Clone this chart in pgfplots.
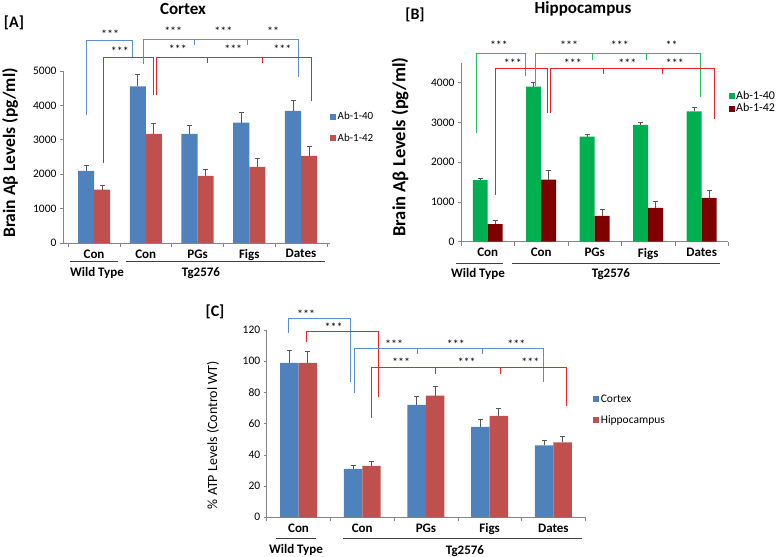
\documentclass[border=0pt]{standalone}
\usepackage{fontspec}
\setmainfont{Carlito}
\usepackage{pgfplots}
\pgfplotsset{compat=1.18}
\definecolor{cblue}{HTML}{4F81BD}
\definecolor{cred}{HTML}{C0504D}
\definecolor{cgreen}{HTML}{00B050}
\definecolor{cdred}{HTML}{7F0000}
\definecolor{bblue}{HTML}{5B8FD0}
\definecolor{bred}{HTML}{EE2222}
\definecolor{bgreen}{HTML}{22C060}
\definecolor{axgray}{HTML}{868686}
\definecolor{errgray}{HTML}{595959}
\tikzset{
 star/.style={font=\fontsize{12}{12}\selectfont, yshift=-2.5pt},
 br/.style={line width=0.8pt},
}
\pgfplotsset{
 sqlegend/.style={legend image code/.code={\fill[##1] (0pt,-3pt) rectangle (6pt,3pt);}},
 panel/.style={
  scale only axis, axis lines*=left, axis line style={axgray, line width=0.6pt},
  clip=false, ybar=0pt, ymin=0,
  xtick={0,1,2,3,4}, xticklabels={Con,Con,PGs,Figs,Dates},
  minor xtick={-0.5,0.5,1.5,2.5,3.5,4.5},
  major x tick style={draw=none},
  tick align=outside, major tick length=3pt, minor tick length=4pt,
  tick style={axgray, line width=0.6pt},
  xticklabel style={font=\bfseries\fontsize{13}{14}\selectfont},
  yticklabel style={font=\fontsize{11.5}{12}\selectfont},
  /pgf/number format/assume math mode=true,
  /pgf/number format/1000 sep={},
  legend style={draw=none, fill=none, anchor=west,
     legend cell align=left, inner sep=0pt, nodes={inner sep=1.5pt}},
  error bars/y dir=plus, error bars/y explicit,
  error bars/error bar style={errgray, line width=0.8pt},
  error bars/error mark options={rotate=90, mark size=2.5pt, line width=0.8pt, errgray},
 },
}
\begin{document}
\begin{tikzpicture}
\path[use as bounding box] (0,0) rectangle (780pt,557pt);
% ---------------- Panel A
\begin{axis}[panel, at={(63pt,314pt)}, anchor=south west, width=267pt, height=172pt,
  xmin=-0.6, xmax=4.56, ymax=5000, ytick={0,1000,...,5000}, bar width=0.31,
  legend style={at={(1.0,0.672)}, row sep=9pt, font=\fontsize{11}{12}\selectfont}]
\addplot[fill=cblue, draw=none, sqlegend] table[x=x, y=b, y error=be] {
x b be
0 2100 170
1 4550 350
2 3170 250
3 3500 290
4 3840 310
};
\addplot[fill=cred, draw=none, sqlegend] table[x=x, y=r, y error=re] {
x r re
0 1550 110
1 3170 300
2 1950 200
3 2210 240
4 2530 270
};
\legend{Ab-1-40,Ab-1-42}
\draw[bblue, br] (axis cs:-0.14,3720) |- (axis cs:0.75,5900) -- (axis cs:0.75,5400);
\draw[bred, br] (axis cs:0.19,2320) |- (axis cs:1.14,5400) -- (axis cs:1.14,4300);
\draw[bblue, br] (axis cs:0.95,5200) |- (axis cs:3.94,5920) -- (axis cs:3.94,4820);
\draw[bblue, br] (axis cs:1.94,5920) -- (axis cs:1.94,5760);
\draw[bblue, br] (axis cs:2.97,5920) -- (axis cs:2.97,5760);
\draw[bred, br] (axis cs:1.20,4300) |- (axis cs:4.21,5390) -- (axis cs:4.21,4140);
\draw[bred, br] (axis cs:2.19,5390) -- (axis cs:2.19,5240);
\draw[bred, br] (axis cs:3.26,5390) -- (axis cs:3.26,5240);
\node[star] at (axis cs:0.31,6134) {***};
\node[star] at (axis cs:0.50,5640) {***};
\node[star] at (axis cs:1.53,6220) {***};
\node[star] at (axis cs:2.50,6220) {***};
\node[star] at (axis cs:3.46,6220) {**};
\node[star] at (axis cs:1.62,5700) {***};
\node[star] at (axis cs:2.69,5700) {***};
\node[star] at (axis cs:3.64,5700) {***};
\end{axis}
% ---------------- Panel B
\begin{axis}[panel, at={(461pt,315.3pt)}, anchor=south west, width=267.4pt, height=178.9pt,
  xmin=-0.5, xmax=4.5, ymax=4500, ytick={0,1000,...,4000}, bar width=0.28,
  legend style={at={(1.0,0.78)}, row sep=0pt, font=\fontsize{12}{13}\selectfont}]
\addplot[fill=cgreen, draw=none, sqlegend] table[x=x, y=b, y error=be] {
x b be
0 1550 40
1 3900 110
2 2640 60
3 2940 70
4 3280 90
};
\addplot[fill=cdred, draw=none, sqlegend] table[x=x, y=r, y error=re] {
x r re
0 440 100
1 1560 240
2 650 170
3 850 160
4 1100 200
};
\legend{Ab-1-40,Ab-1-42}
\draw[bgreen, br] (axis cs:-0.22,2730) |- (axis cs:0.71,4730) -- (axis cs:0.71,4170);
\draw[bred, br] (axis cs:0.15,1175) |- (axis cs:1.11,4360) -- (axis cs:1.11,3230);
\draw[bgreen, br] (axis cs:0.90,3920) |- (axis cs:3.97,4730) -- (axis cs:3.97,3650);
\draw[bgreen, br] (axis cs:1.96,4730) -- (axis cs:1.96,4571);
\draw[bgreen, br] (axis cs:2.96,4730) -- (axis cs:2.96,4571);
\draw[bred, br] (axis cs:1.18,3230) |- (axis cs:4.23,4360) -- (axis cs:4.23,3080);
\draw[bred, br] (axis cs:2.16,4360) -- (axis cs:2.16,4219);
\draw[bred, br] (axis cs:3.27,4360) -- (axis cs:3.27,4219);
\node[star] at (axis cs:0.21,5000) {***};
\node[star] at (axis cs:0.47,4546) {***};
\node[star] at (axis cs:1.52,5000) {***};
\node[star] at (axis cs:2.47,5000) {***};
\node[star] at (axis cs:3.44,5000) {**};
\node[star] at (axis cs:1.59,4546) {***};
\node[star] at (axis cs:2.61,4546) {***};
\node[star] at (axis cs:3.50,4546) {***};
\end{axis}
% ---------------- Panel C
\begin{axis}[panel, at={(266.7pt,39.7pt)}, anchor=south west, width=318.5pt, height=187.3pt,
  xmin=-0.5, xmax=4.5, ymax=120, ytick={0,20,...,120}, bar width=0.29,
  legend style={at={(1.025,0.573)}, row sep=9pt, font=\fontsize{11.5}{12}\selectfont}]
\addplot[fill=cblue, draw=none, sqlegend] table[x=x, y=b, y error=be] {
x b be
0 99 8
1 31 2.5
2 72 5.5
3 58 4.5
4 46 3.5
};
\addplot[fill=cred, draw=none, sqlegend] table[x=x, y=r, y error=re] {
x r re
0 99 7.5
1 33 2.5
2 78 6
3 65 5
4 48 4
};
\legend{Cortex,Hippocampus}
\draw[bblue, br] (axis cs:-0.157,118.3) |- (axis cs:0.82,127.6) -- (axis cs:0.82,86.9);
\draw[bred, br] (axis cs:0.13,112.6) |- (axis cs:1.26,119.4) -- (axis cs:1.26,76.9);
\draw[bblue, br] (axis cs:0.88,79.5) |- (axis cs:3.85,108.3) -- (axis cs:3.85,86.9);
\draw[bblue, br] (axis cs:1.86,108.3) -- (axis cs:1.86,104.7);
\draw[bblue, br] (axis cs:2.89,108.3) -- (axis cs:2.89,104.7);
\draw[bred, br] (axis cs:1.14,63.9) |- (axis cs:4.2,96.2) -- (axis cs:4.2,71.3);
\draw[bred, br] (axis cs:2.15,96.2) -- (axis cs:2.15,91.7);
\draw[bred, br] (axis cs:3.17,96.2) -- (axis cs:3.17,91.7);
\node[star] at (axis cs:0.12,131.8) {***};
\node[star] at (axis cs:0.55,123.3) {***};
\node[star] at (axis cs:1.50,112.6) {***};
\node[star] at (axis cs:2.47,112.6) {***};
\node[star] at (axis cs:3.42,112.6) {***};
\node[star] at (axis cs:1.61,100.8) {***};
\node[star] at (axis cs:2.64,100.8) {***};
\node[star] at (axis cs:3.64,100.8) {***};
\end{axis}
% ---------------- Texts
\begin{scope}[x=1pt,y=1pt]
\node[font=\bfseries\fontsize{17}{18}\selectfont] at (183,548) {Cortex};
\node[font=\bfseries\fontsize{17}{18}\selectfont] at (583,548) {Hippocampus};
\node[font=\bfseries\fontsize{16}{17}\selectfont] at (14,534) {[A]};
\node[font=\bfseries\fontsize{16}{17}\selectfont] at (415,542) {[B]};
\node[font=\bfseries\fontsize{16}{17}\selectfont] at (215,245.3) {[C]};
\node[font=\bfseries\fontsize{17.5}{18}\selectfont, rotate=90] at (10,404) {Brain Aβ Levels (pg/ml)};
\node[font=\bfseries\fontsize{18.5}{19}\selectfont, rotate=90] at (400,410) {Brain Aβ Levels (pg/ml)};
\node[font=\fontsize{14}{15}\selectfont, rotate=90] at (213,122) {\% ATP Levels (Control WT)};
\draw[black!75, line width=0.8pt] (70,296) -- (118,296) (126,296) -- (325,296);
\draw[black!75, line width=0.8pt] (456,294) -- (503,294) (512,294) -- (720,294);
\draw[black!75, line width=0.8pt] (276,19) -- (316,19) (343,19) -- (582,19);
\node[font=\bfseries\fontsize{13}{14}\selectfont] at (97,284) {Wild Type};
\node[font=\bfseries\fontsize{13}{14}\selectfont] at (201,284) {Tg2576};
\node[font=\bfseries\fontsize{13}{14}\selectfont] at (478,282.7) {Wild Type};
\node[font=\bfseries\fontsize{13}{14}\selectfont] at (611,282.7) {Tg2576};
\node[font=\bfseries\fontsize{13}{14}\selectfont] at (296,7) {Wild Type};
\node[font=\bfseries\fontsize{13}{14}\selectfont] at (465,6) {Tg2576};
\end{scope}
\end{tikzpicture}
\end{document}
